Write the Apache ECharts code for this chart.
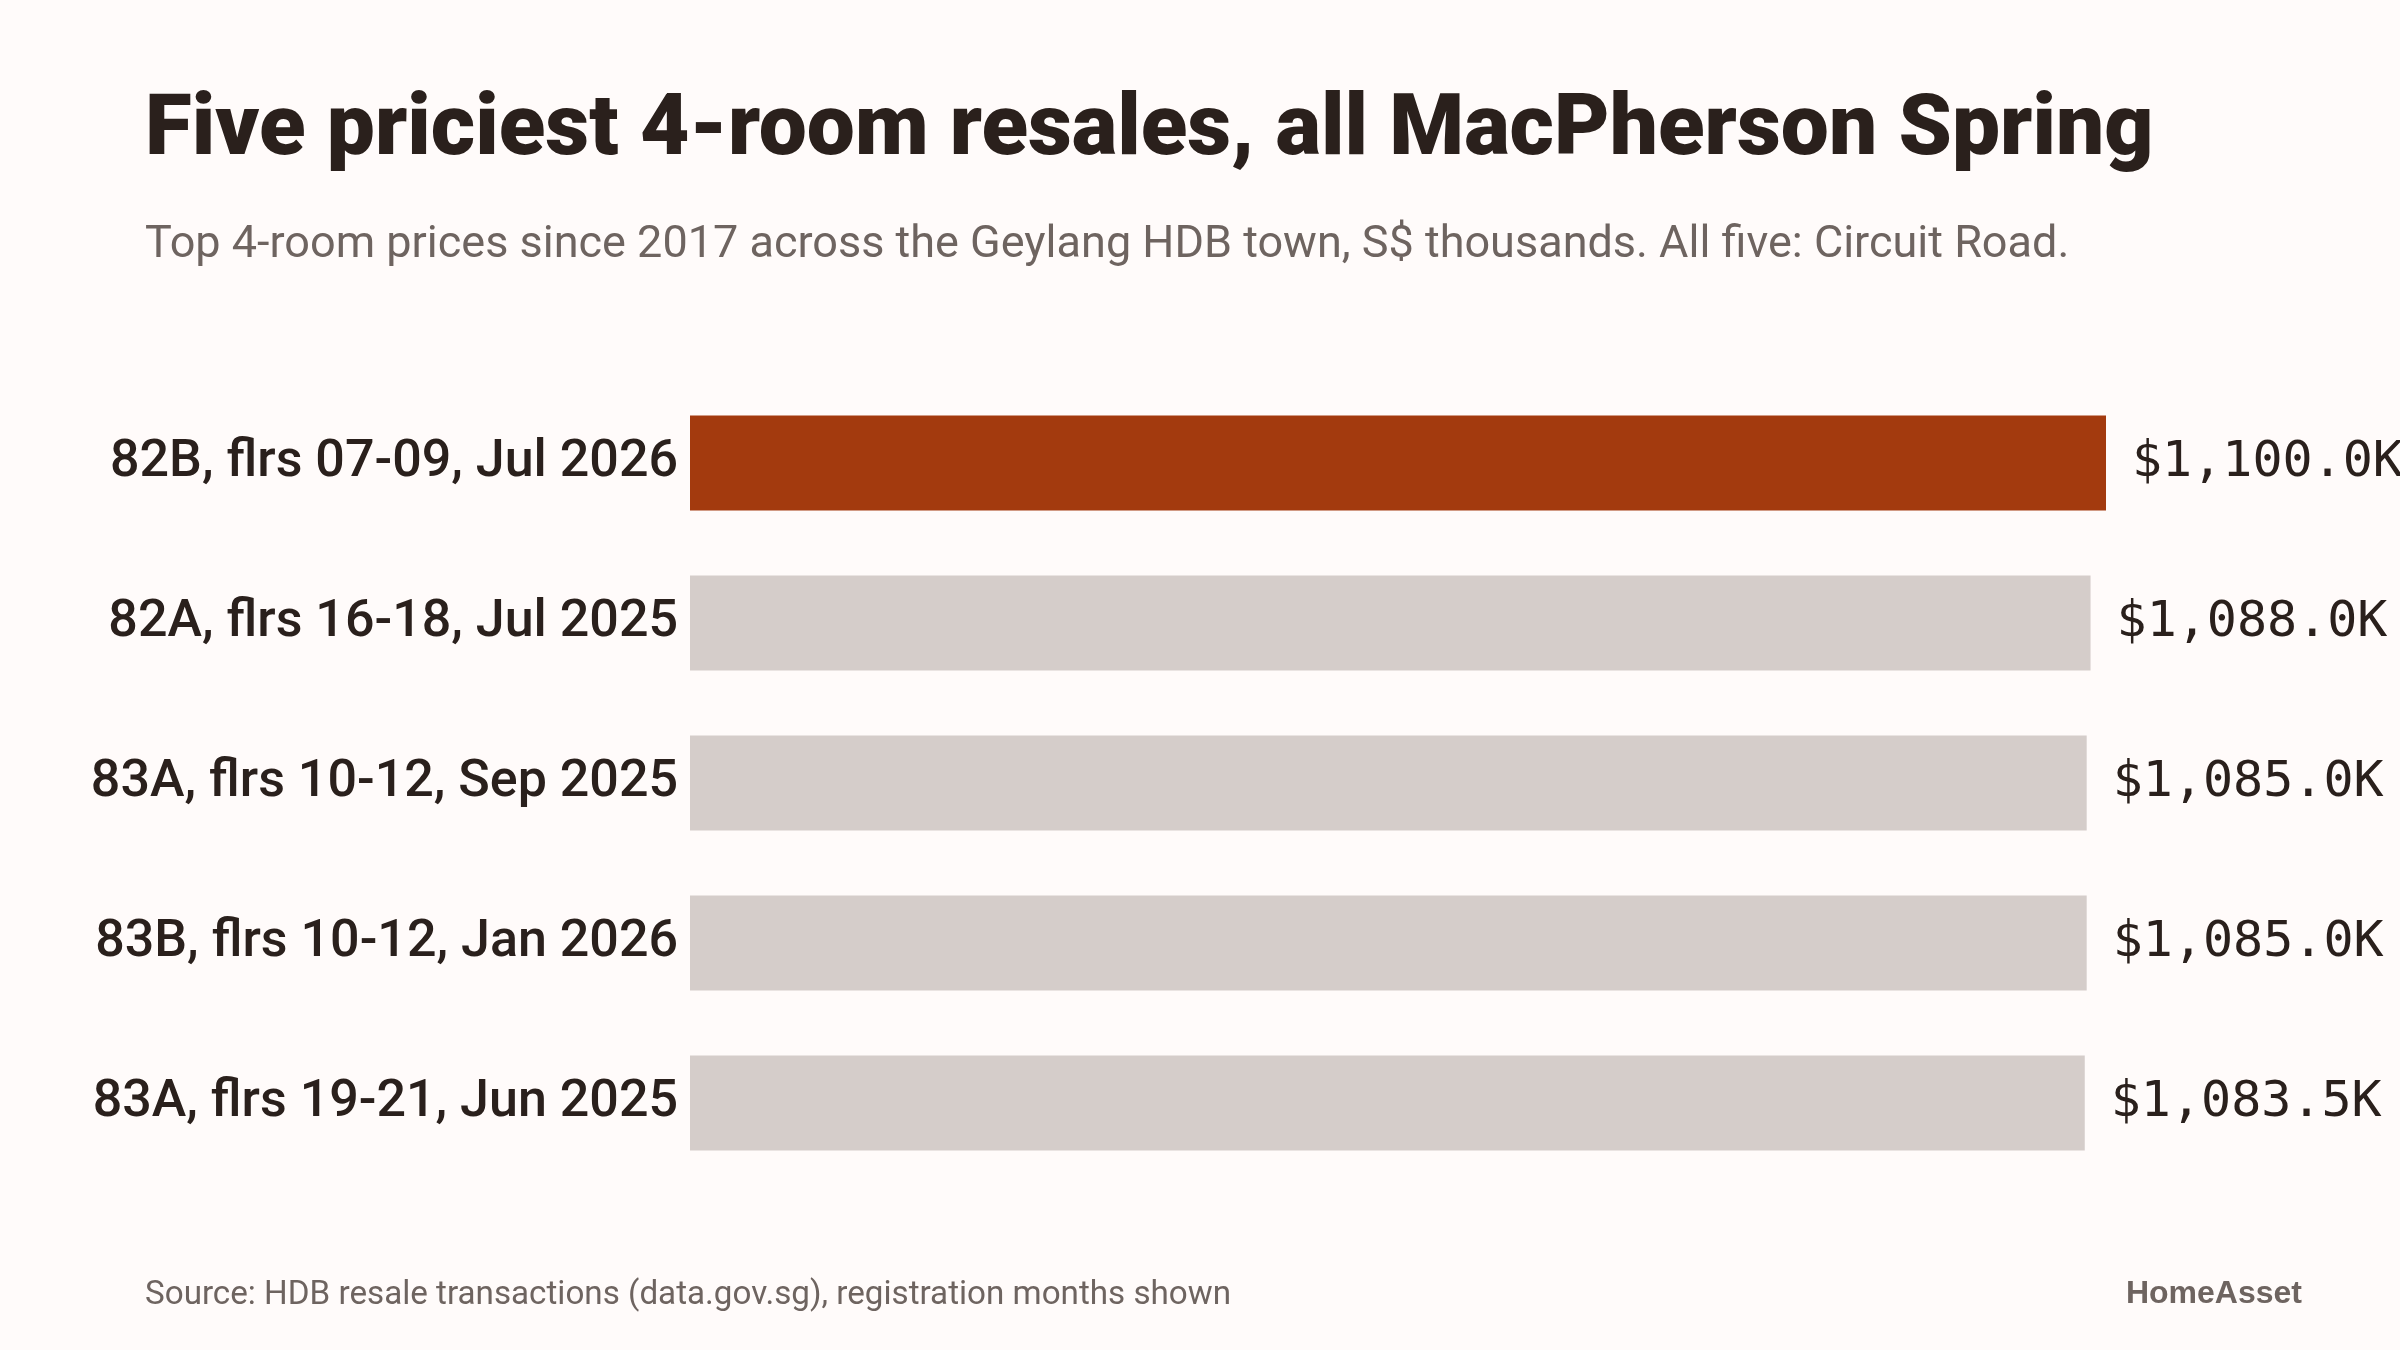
<!DOCTYPE html>
<html>
<head>
<meta charset="utf-8">
<script src="https://cdn.jsdelivr.net/npm/echarts@6/dist/echarts.min.js"></script>
<style>
  html, body { margin: 0; padding: 0; background: #fffbfa; }
  #chart { width: 2400px; height: 1350px; }
</style>
</head>
<body>
<div id="chart"></div>
<script>
// top five 4-room resales, S$ thousands
const categories = [
  '82B, flrs 07-09, Jul 2026',
  '82A, flrs 16-18, Jul 2025',
  '83A, flrs 10-12, Sep 2025',
  '83B, flrs 10-12, Jan 2026',
  '83A, flrs 19-21, Jun 2025'
]
const prices = [1100.0, 1088.0, 1085.0, 1085.0, 1083.5]
const highlight = [true, false, false, false, false]

const chart = echarts.init(document.getElementById('chart'))

chart.setOption({
  backgroundColor: '#fffbfa',
  animation: false,
  title: [
    {
      text: 'Five priciest 4-room resales, all MacPherson Spring',
      left: 140,
      top: 85,
      textStyle: {
        fontFamily: 'Roboto',
        fontWeight: 900,
        fontSize: 85.5,
        color: '#2a201c'
      }
    },
    {
      text: 'Top 4-room prices since 2017 across the Geylang HDB town, S$ thousands. All five: Circuit Road.',
      left: 140,
      top: 218,
      textStyle: {
        fontFamily: 'Roboto',
        fontWeight: 'normal',
        fontSize: 45,
        color: '#6e6460'
      }
    },
    {
      text: 'Source: HDB resale transactions (data.gov.sg), registration months shown',
      left: 140,
      top: 1274,
      textStyle: {
        fontFamily: 'Roboto',
        fontWeight: 'normal',
        fontSize: 33.2,
        color: '#6e6460'
      }
    },
    {
      text: 'HomeAsset',
      right: 93,
      top: 1273,
      textStyle: {
        fontFamily: 'Liberation Sans',
        fontWeight: 'bold',
        fontSize: 32,
        color: '#6e6460'
      }
    }
  ],
  grid: {
    left: 690,
    top: 383,
    width: 1416,
    height: 800,
    containLabel: false
  },
  xAxis: {
    type: 'value',
    min: 0,
    max: 1100,
    show: false
  },
  yAxis: {
    type: 'category',
    inverse: true,
    data: categories,
    axisLine: { show: false },
    axisTick: { show: false },
    axisLabel: {
      margin: 12,
      padding: [6, 0, 0, 0],
      fontFamily: 'Roboto',
      fontWeight: 500,
      fontSize: 52,
      color: '#2a201c'
    }
  },
  series: [
    {
      type: 'bar',
      barWidth: 95,
      data: prices.map((v, i) => ({
        value: v,
        itemStyle: { color: highlight[i] ? '#a33a0e' : '#d5cdca' }
      })),
      label: {
        show: true,
        position: 'right',
        distance: 26,
        fontFamily: 'DejaVu Sans Mono',
        fontSize: 50,
        color: '#2a201c',
        formatter: p => '$' + p.value.toLocaleString('en-US', { minimumFractionDigits: 1, maximumFractionDigits: 1 }) + 'K'
      }
    }
  ]
})
</script>
</body>
</html>
